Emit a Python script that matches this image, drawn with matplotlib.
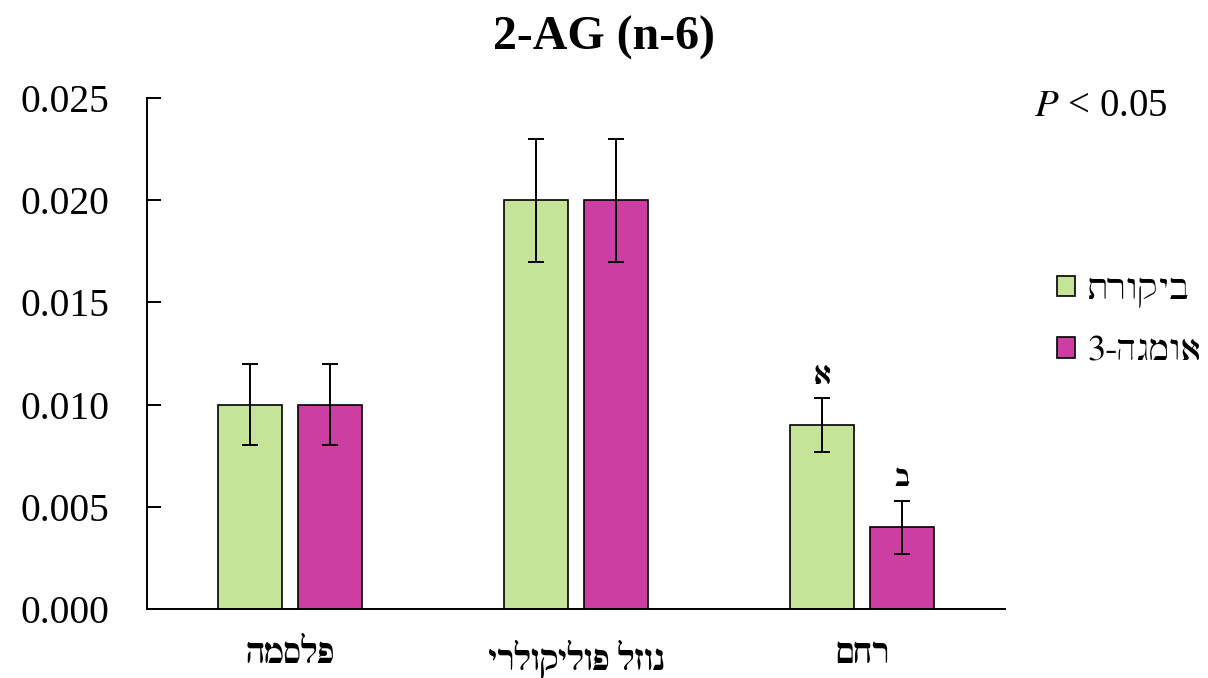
import matplotlib
matplotlib.use("Agg")
import matplotlib.pyplot as plt
import numpy as np
from matplotlib.patches import Patch

# Data
categories = ["פלסמה", "נוזל פוליקולרי", "רחם"]
series_names = ["ביקורת", "אומגה-3"]
control_values = [0.010, 0.020, 0.009]
control_errors = [0.002, 0.003, 0.0013]
omega_values = [0.010, 0.020, 0.004]
omega_errors = [0.002, 0.003, 0.0013]
control_letters = ["", "", "א"]
omega_letters = ["", "", "ב"]
y_ticks = [0.000, 0.005, 0.010, 0.015, 0.020, 0.025]

GREEN = "#C5E498"
MAGENTA = "#CC3EA2"
HEB = ["FreeSerif", "DejaVu Sans"]


def visual(s):
    """Reorder a right-to-left string for left-to-right glyph layout."""
    return s[::-1]


plt.rcParams["font.family"] = ["Liberation Serif", "FreeSerif", "DejaVu Sans"]
plt.rcParams["mathtext.fontset"] = "stix"

fig = plt.figure(figsize=(12.08, 6.78), dpi=100)
ax = fig.add_axes([147 / 1208, 1 - 609 / 678, (1005 - 147) / 1208, (609 - 98) / 678])

x = np.arange(len(categories))
width = 0.224
offset = 0.14
err_kw = dict(ecolor="black", elinewidth=1.4, capsize=6, capthick=1.4)

ax.bar(x - offset, control_values, width, yerr=control_errors, color=GREEN,
       edgecolor="black", linewidth=1.2, error_kw=err_kw, zorder=2)
ax.bar(x + offset, omega_values, width, yerr=omega_errors, color=MAGENTA,
       edgecolor="black", linewidth=1.2, error_kw=err_kw, zorder=2)

for i in range(len(categories)):
    if control_letters[i]:
        ax.text(x[i] - offset, control_values[i] + control_errors[i] + 0.0004,
                control_letters[i], ha="center", va="bottom", fontsize=21,
                family=HEB, fontweight="bold")
    if omega_letters[i]:
        ax.text(x[i] + offset, omega_values[i] + omega_errors[i] + 0.0004,
                omega_letters[i], ha="center", va="bottom", fontsize=21,
                family=HEB, fontweight="bold")

ax.set_xlim(-0.5, 2.5)
ax.set_ylim(0, 0.025)
ax.set_yticks(y_ticks)
ax.set_yticklabels([f"{t:.3f}" for t in y_ticks], fontsize=28.5)
ax.tick_params(axis="y", direction="in", length=10, width=1.4, pad=27)
ax.set_xticks(x)
ax.set_xticklabels([visual(c) for c in categories], fontsize=24,
                   fontweight="bold", family=HEB)
ax.tick_params(axis="x", length=0, pad=22)

for side in ("top", "right"):
    ax.spines[side].set_visible(False)
for side in ("left", "bottom"):
    ax.spines[side].set_linewidth(1.4)

fig.text(0.5, 1 - 38 / 678, "2-AG (n-6)", ha="center", va="center",
         fontsize=34.5, fontweight="bold")
fig.text(1168 / 1208, 1 - 107 / 678, "$P$ < 0.05", ha="right", va="center",
         fontsize=28)

handles = [Patch(facecolor=GREEN, edgecolor="black", linewidth=1.2),
           Patch(facecolor=MAGENTA, edgecolor="black", linewidth=1.2)]
fig.legend(handles, [visual(n) for n in series_names], loc="center left",
           bbox_to_anchor=(1057 / 1208, 1 - 321 / 678), frameon=False,
           prop={"family": HEB, "size": 26}, handlelength=0.5,
           handleheight=0.5, handletextpad=0.35, labelspacing=0.75,
           borderaxespad=0, borderpad=0)

fig.savefig("out.png", dpi=100)
